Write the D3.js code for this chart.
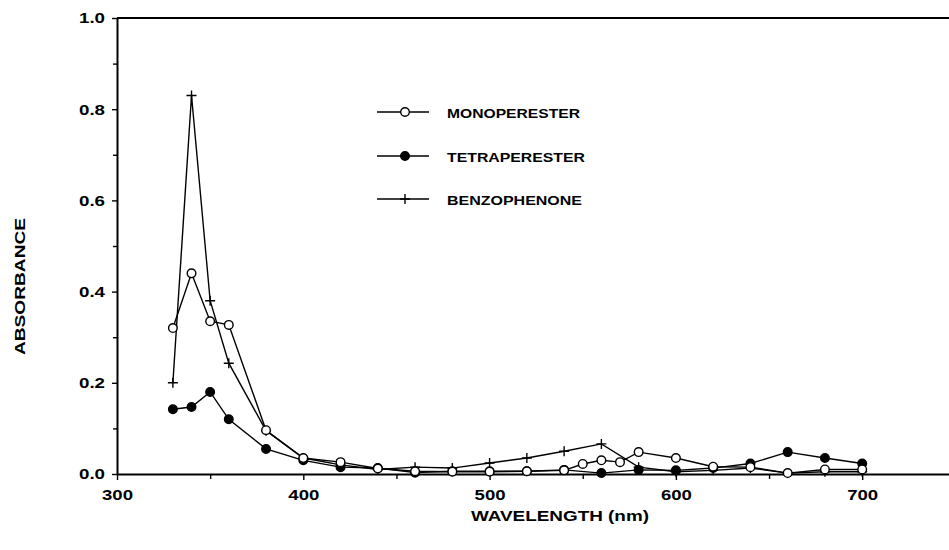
<!DOCTYPE html>
<html>
<head>
<meta charset="utf-8">
<script src="https://cdn.jsdelivr.net/npm/d3@7"></script>
<style>
  body { margin: 0; background: #fff; }
  svg { display: block; font-family: "Liberation Sans", Arial, sans-serif; }
  .tick text { font-weight: bold; font-size: 15px; fill: #000; }
</style>
</head>
<body>
<div id="chart"></div>
<script>
// wavelengths (nm)
const monoWl = [330, 340, 350, 360, 380, 400, 420, 440, 460, 480, 500, 520, 540, 550, 560, 570, 580, 600, 620, 640, 660, 680, 700];
const monoAbs = [0.32, 0.44, 0.335, 0.327, 0.096, 0.035, 0.026, 0.012, 0.006, 0.005, 0.005, 0.006, 0.008, 0.022, 0.030, 0.026, 0.048, 0.035, 0.016, 0.015, 0.002, 0.010, 0.010];

const tetraWl = [330, 340, 350, 360, 380, 400, 420, 440, 460, 480, 500, 520, 540, 560, 580, 600, 620, 640, 660, 680, 700];
const tetraAbs = [0.142, 0.147, 0.18, 0.12, 0.055, 0.030, 0.015, 0.013, 0.003, 0.006, 0.006, 0.006, 0.009, 0.002, 0.009, 0.008, 0.013, 0.023, 0.048, 0.035, 0.023];

const benzoWl = [330, 340, 350, 360, 380, 400, 420, 440, 460, 480, 500, 520, 540, 560, 580, 600, 620, 640, 660, 680, 700];
const benzoAbs = [0.20, 0.83, 0.38, 0.243, 0.095, 0.035, 0.020, 0.010, 0.015, 0.013, 0.024, 0.035, 0.050, 0.066, 0.015, 0.005, 0.008, 0.013, 0.002, 0.005, 0.005];

const xMajor = [300, 400, 500, 600, 700];
const xMinor = [350, 450, 550, 650, 750];
const yMajor = [0.0, 0.2, 0.4, 0.6, 0.8, 1.0];
const yMinor = [0.1, 0.3, 0.5, 0.7, 0.9];

const seriesNames = ["MONOPERESTER", "TETRAPERESTER", "BENZOPHENONE"];

const w = 949, h = 550;
const plotLeft = 117, plotTop = 18, plotBottom = 474;

const x = d3.scaleLinear().domain([300, 800]).range([plotLeft, plotLeft + 500 * 1.863]);
const y = d3.scaleLinear().domain([0, 1]).range([plotBottom, plotTop]);

const svg = d3.select("#chart").append("svg").attr("width", w).attr("height", h);

// minor ticks
svg.append("g")
  .attr("transform", `translate(0,${plotBottom})`)
  .call(d3.axisBottom(x).tickValues(xMinor).tickSize(5).tickFormat(""))
  .call(g => g.select(".domain").remove());
svg.append("g")
  .attr("transform", `translate(${plotLeft},0)`)
  .call(d3.axisLeft(y).tickValues(yMinor).tickSize(4).tickFormat(""))
  .call(g => g.select(".domain").remove());

// major axes
const xAxis = svg.append("g")
  .attr("transform", `translate(0,${plotBottom})`)
  .call(d3.axisBottom(x).tickValues(xMajor).tickSize(6).tickPadding(9).tickSizeOuter(0).tickFormat(d3.format("d")));
xAxis.select(".domain").attr("stroke-width", 2.2);
xAxis.selectAll(".tick text").attr("textLength", 31).attr("lengthAdjust", "spacingAndGlyphs");

const yAxis = svg.append("g")
  .attr("transform", `translate(${plotLeft},0)`)
  .call(d3.axisLeft(y).tickValues(yMajor).tickSize(5).tickPadding(7).tickSizeOuter(0).tickFormat(d3.format(".1f")));
yAxis.select(".domain").attr("stroke-width", 2);
yAxis.selectAll(".tick text").attr("textLength", 26).attr("lengthAdjust", "spacingAndGlyphs");
svg.selectAll(".tick line").attr("stroke-width", 1.4);

// top frame line
svg.append("line")
  .attr("x1", plotLeft).attr("x2", w)
  .attr("y1", plotTop).attr("y2", plotTop)
  .attr("stroke", "#000").attr("stroke-width", 2.2);

// axis titles
svg.append("text")
  .attr("x", 471).attr("y", 521)
  .attr("font-weight", "bold").attr("font-size", 14)
  .attr("textLength", 178).attr("lengthAdjust", "spacingAndGlyphs")
  .text("WAVELENGTH (nm)");
svg.append("text")
  .attr("transform", `translate(25,355) rotate(-90)`)
  .attr("font-weight", "bold").attr("font-size", 14)
  .attr("textLength", 137).attr("lengthAdjust", "spacingAndGlyphs")
  .text("ABSORBANCE");

const line = d3.line().x(d => x(d[0])).y(d => y(d[1]));

function drawSeries(wl, abs, kind) {
  const pts = wl.map((v, i) => [v, abs[i]]);
  svg.append("path")
    .datum(pts)
    .attr("d", line)
    .attr("fill", "none")
    .attr("stroke", "#000")
    .attr("stroke-width", 1.4);
  drawMarkers(pts.map(d => [x(d[0]), y(d[1])]), kind);
}

function drawMarkers(coords, kind) {
  const g = svg.append("g");
  if (kind === "plus") {
    coords.forEach(c => {
      g.append("path")
        .attr("d", `M${c[0] - 5},${c[1]}H${c[0] + 5}M${c[0]},${c[1] - 5}V${c[1] + 5}`)
        .attr("stroke", "#000").attr("stroke-width", 1.4);
    });
  } else {
    g.selectAll("circle").data(coords).enter().append("circle")
      .attr("cx", d => d[0]).attr("cy", d => d[1])
      .attr("r", 4.3)
      .attr("fill", kind === "open" ? "#fff" : "#000")
      .attr("stroke", "#000").attr("stroke-width", 1.4);
  }
}

drawSeries(benzoWl, benzoAbs, "plus");
drawSeries(tetraWl, tetraAbs, "filled");
drawSeries(monoWl, monoAbs, "open");

// legend
const kinds = ["open", "filled", "plus"];
const legendY = [112, 156, 199];
const legendLen = [133, 138, 135];
seriesNames.forEach((name, i) => {
  svg.append("line")
    .attr("x1", 377).attr("x2", 429)
    .attr("y1", legendY[i]).attr("y2", legendY[i])
    .attr("stroke", "#000").attr("stroke-width", 1.4);
  drawMarkers([[405, legendY[i]]], kinds[i]);
  svg.append("text")
    .attr("x", 447).attr("y", legendY[i] + 6)
    .attr("font-weight", "bold").attr("font-size", 13)
    .attr("textLength", legendLen[i]).attr("lengthAdjust", "spacingAndGlyphs")
    .text(name);
});
</script>
</body>
</html>
